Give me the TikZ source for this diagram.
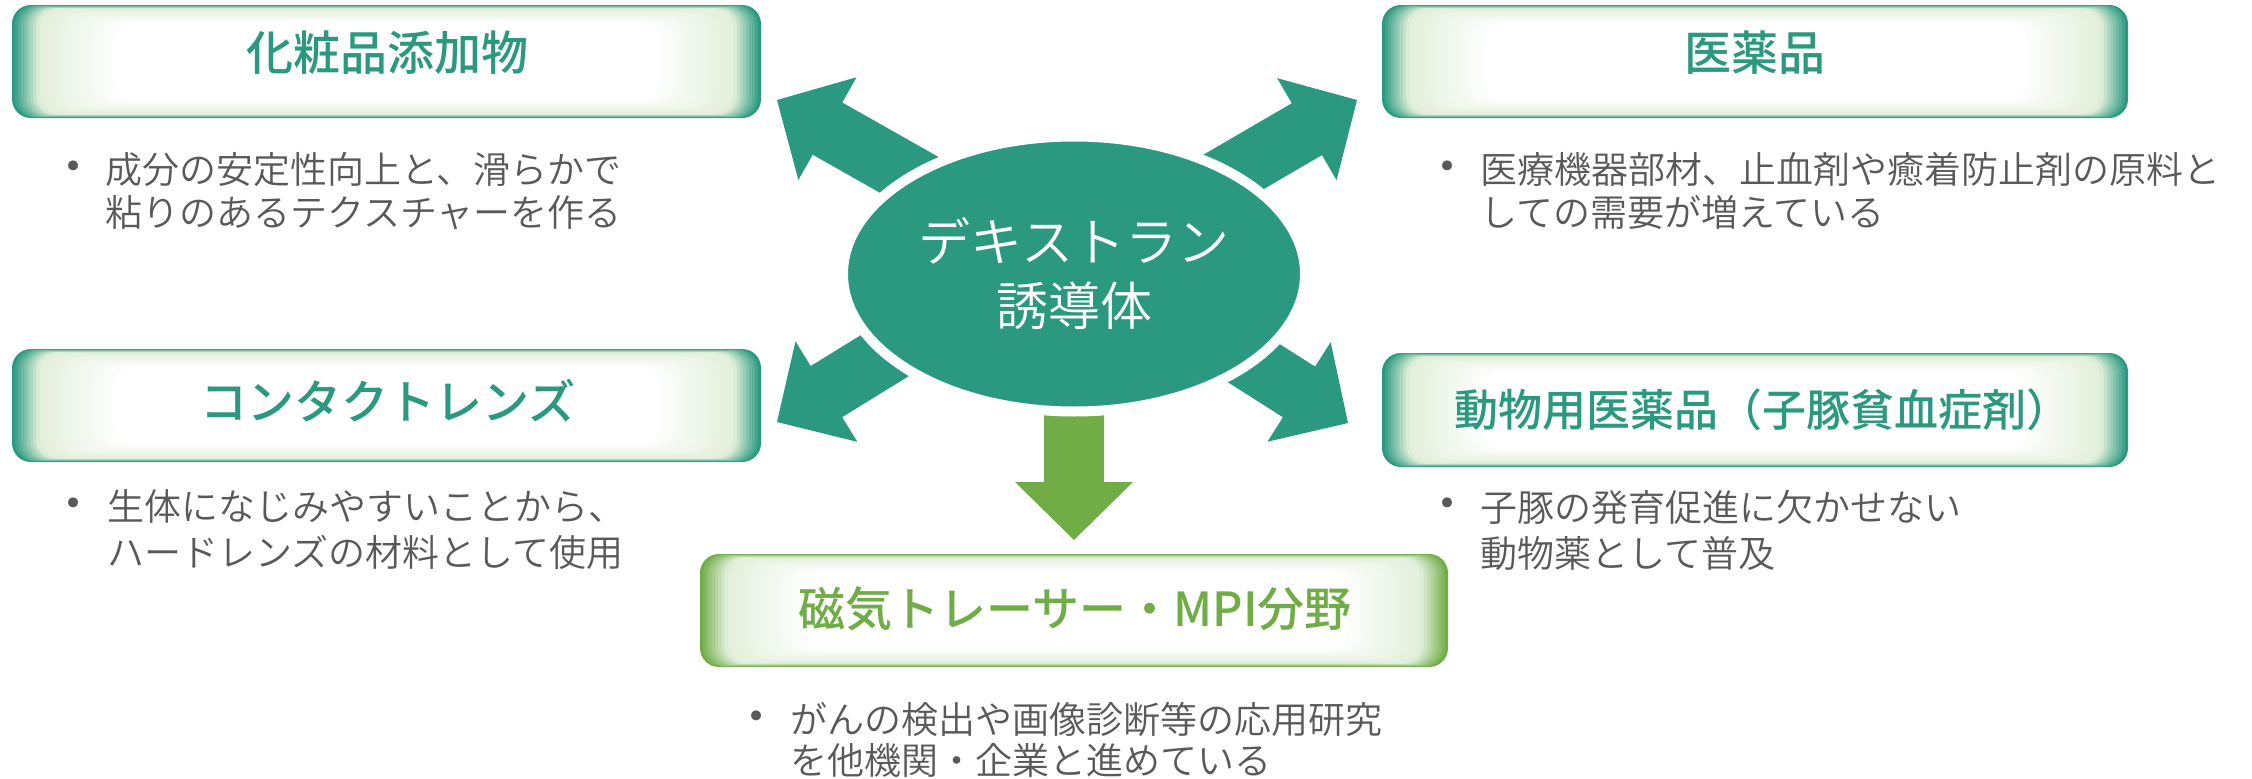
\documentclass[tikz,border=0pt]{standalone}
\usepackage{fontspec}
\setmainfont{Noto Sans CJK JP}
\newfontfamily\cjkmed{Noto Sans CJK JP Medium}
\newfontfamily\cjklight{Noto Sans CJK JP DemiLight}
\newfontfamily\bulletfont{DejaVu Sans}
\usetikzlibrary{shapes.geometric,calc}
\definecolor{dteal}{HTML}{2A9980}
\definecolor{dgreen}{HTML}{70AD47}
\definecolor{lite}{HTML}{E2EFDA}
\definecolor{txtgray}{HTML}{595959}

% soft-edged rounded box: #1 edge colour, (#2,#3) top-left, (#4,#5) bottom-right
\newcommand\glowbox[5]{%
  \foreach \i in {0,...,28}{%
    \pgfmathsetmacro\dx{\i<9 ? 3*\i : 24+(\i-8)*4}%
    \pgfmathsetmacro\dy{\i<9 ? 0.4*\i : 3.2+(\i-8)*0.75}%
    \pgfmathtruncatemacro\q{\i<9 ? 100-\i*12 : 100-(\i-8)*5}%
    \ifnum\i<9 \def\col{#1!\q!lite}\else\def\col{lite!\q!white}\fi
    \fill[\col, rounded corners=19pt] (#2+\dx,#3+\dy) rectangle (#4-\dx,#5-\dy);
  }%
}

% block arrow from #2 to #3 filled with #1
\newcommand\blockarrow[3]{%
  \fill[#1] let \p1=(#2), \p2=(#3),
    \n1={atan2(\y2-\y1,\x2-\x1)}, \n2={veclen(\x2-\x1,\y2-\y1)} in
    ($(\p1)+(\n1+90:30pt)$)
    -- ($(\p1)+(\n1:\n2*1pt-58pt)+(\n1+90:30pt)$)
    -- ($(\p1)+(\n1:\n2*1pt-58pt)+(\n1+90:59pt)$)
    -- (\p2)
    -- ($(\p1)+(\n1:\n2*1pt-58pt)+(\n1-90:59pt)$)
    -- ($(\p1)+(\n1:\n2*1pt-58pt)+(\n1-90:30pt)$)
    -- ($(\p1)+(\n1-90:30pt)$) -- cycle;
}

\begin{document}
\begin{tikzpicture}[x=1pt,y=-1pt,
  title/.style={inner sep=0pt, font=\cjkmed\fontsize{47}{56}\selectfont},
  body/.style={inner sep=0pt, anchor=west, align=left, text=txtgray,
               font=\cjklight\fontsize{37}{43}\selectfont},
  dot/.style={inner sep=0pt, text=txtgray, font=\bulletfont\fontsize{34}{34}\selectfont},
  center/.style={ellipse, fill=dteal, draw=white, line width=10pt,
                 minimum width=462pt, minimum height=275pt, inner sep=0pt,
                 text=white, align=center, font=\cjklight\fontsize{52}{64}\selectfont}
]
\fill[white] (0,0) rectangle (2252,779);
\useasboundingbox (0,0) rectangle (2252,779);

% boxes
\glowbox{dteal}{12}{5}{761}{118}
\glowbox{dteal}{1382}{5}{2128}{118}
\glowbox{dteal}{12}{349}{761}{462}
\glowbox{dteal}{1382}{353}{2128}{467}
\glowbox{dgreen}{700}{554}{1448}{667}

% titles
\node[title, text=dteal] (t1) at (387,53) {化粧品添加物};
\node[title, text=dteal] (t2) at (1755,53) {医薬品};
\node[title, text=dteal] (t3) at (388,401) {コンタクトレンズ};
\node[title, text=dteal, font=\cjkmed\fontsize{44}{52}\selectfont] (t4) at (1762,410) {動物用医薬品（子豚貧血症剤）};
\node[title, text=dgreen] (t5) at (1075,609) {磁気トレーサー・MPI分野};

% bullet texts
\node[dot] (p1) at (74,170) {•};
\node[body] (d1) at (105,191) {成分の安定性向上と、滑らかで\\粘りのあるテクスチャーを作る};
\node[dot] (p2) at (1448,170) {•};
\node[body] (d2) at (1480,191) {医療機器部材、止血剤や癒着防止剤の原料と\\しての需要が増えている};
\node[dot] (p3) at (74,507) {•};
\node[body, font=\cjklight\fontsize{37}{46}\selectfont] (d3) at (107,530) {生体になじみやすいことから、\\ハードレンズの材料として使用};
\node[dot] (p4) at (1448,507) {•};
\node[body, font=\cjklight\fontsize{37}{46}\selectfont] (d4) at (1480,530) {子豚の発育促進に欠かせない\\動物薬として普及};
\node[dot] (p5) at (757,720) {•};
\node[body, font=\cjklight\fontsize{37}{41}\selectfont] (d5) at (790,740) {がんの検出や画像診断等の応用研究\\を他機関・企業と進めている};

% arrows
\coordinate (ulA) at (1003,228); \coordinate (ulB) at (777,100);
\coordinate (urA) at (1132,231); \coordinate (urB) at (1357,100);
\coordinate (llA) at (998,286);  \coordinate (llB) at (777,422);
\coordinate (lrA) at (1129,284); \coordinate (lrB) at (1348,423);
\coordinate (dnA) at (1074,413); \coordinate (dnB) at (1074,540);
\blockarrow{dteal}{ulA}{ulB}
\blockarrow{dteal}{urA}{urB}
\blockarrow{dteal}{llA}{llB}
\blockarrow{dteal}{lrA}{lrB}
\blockarrow{dgreen}{dnA}{dnB}

% centre
\node[center] (E) at (1074,274) {デキストラン\\誘導体};
\end{tikzpicture}
\end{document}
